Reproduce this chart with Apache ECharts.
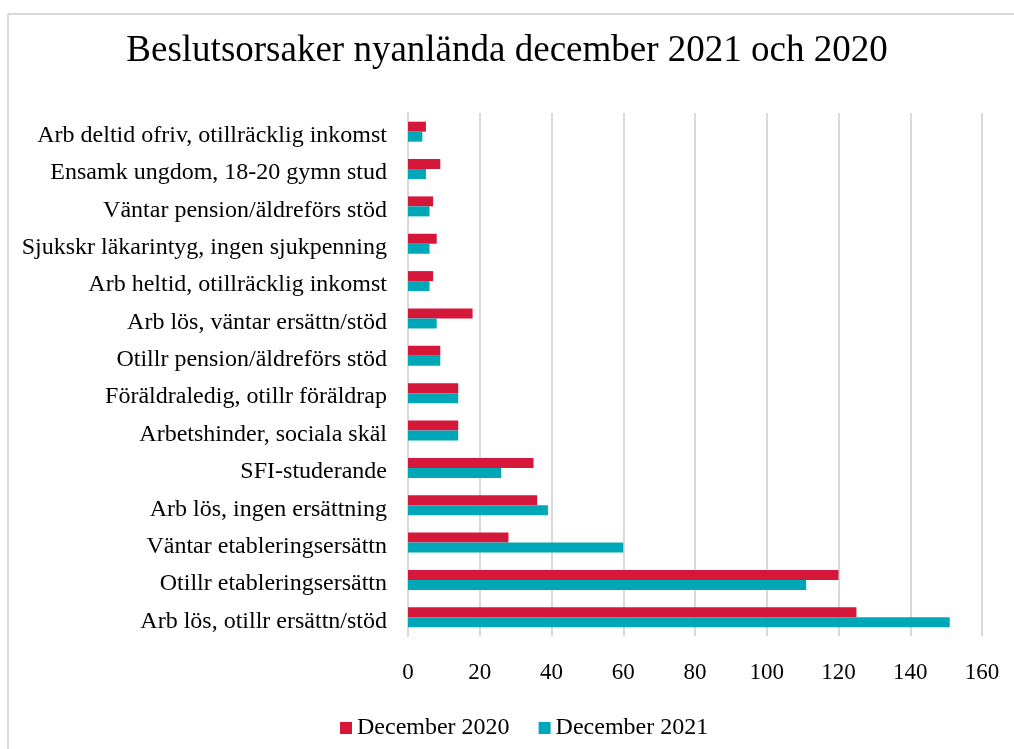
<!DOCTYPE html>
<html>
<head>
<meta charset="utf-8">
<script src="https://cdn.jsdelivr.net/npm/echarts@6/dist/echarts.min.js"></script>
<style>
  html, body { margin: 0; padding: 0; background: #fff; }
  #chart { width: 1014px; height: 749px; }
</style>
</head>
<body>
<div id="chart"></div>
<script>
// categories, top to bottom
var categories = [
    "Arb deltid ofriv, otillräcklig inkomst",
    "Ensamk ungdom, 18-20 gymn stud",
    "Väntar pension/äldreförs stöd",
    "Sjukskr läkarintyg, ingen sjukpenning",
    "Arb heltid, otillräcklig inkomst",
    "Arb lös, väntar ersättn/stöd",
    "Otillr pension/äldreförs stöd",
    "Föräldraledig, otillr föräldrap",
    "Arbetshinder, sociala skäl",
    "SFI-studerande",
    "Arb lös, ingen ersättning",
    "Väntar etableringsersättn",
    "Otillr etableringsersättn",
    "Arb lös, otillr ersättn/stöd"
];

var dec2020 = [5, 9, 7, 8, 7, 18, 9, 14, 14, 35, 36, 28, 120, 125];
var dec2021 = [4, 5, 6, 6, 6, 8, 9, 14, 14, 26, 39, 60, 111, 151];

var xTicks = { min: 0, max: 160, interval: 20 };

var myChart = echarts.init(document.getElementById("chart"));
var serif = "'Liberation Serif', 'Times New Roman', serif";

var option = {
    backgroundColor: "#fff",
    animation: false,
    textStyle: { fontFamily: serif, color: "#000" },
    title: {
        text: "Beslutsorsaker nyanlända december 2021 och 2020",
        left: "center",
        top: 28,
        textStyle: { fontFamily: serif, fontSize: 37, fontWeight: "normal", color: "#000" }
    },
    // light frame on left and top edges
    graphic: [
        { type: "line", shape: { x1: 8, y1: 14, x2: 1014, y2: 14 }, style: { stroke: "#d9d9d9", lineWidth: 2 } },
        { type: "line", shape: { x1: 8, y1: 14, x2: 8, y2: 749 }, style: { stroke: "#d9d9d9", lineWidth: 2 } }
    ],
    legend: {
        bottom: 9,
        left: 340,
        padding: 0,
        itemWidth: 12,
        itemHeight: 12,
        itemGap: 29,
        icon: "rect",
        textStyle: { fontFamily: serif, fontSize: 24, color: "#000" },
        data: ["December 2020", "December 2021"]
    },
    grid: { left: 408, right: 32, top: 113, bottom: 113 },
    xAxis: {
        type: "value",
        min: xTicks.min,
        max: xTicks.max,
        interval: xTicks.interval,
        axisLine: { show: false },
        axisTick: { show: false },
        axisLabel: { fontFamily: serif, fontSize: 23, color: "#000", margin: 25 },
        splitLine: { lineStyle: { color: "#d9d9d9", width: 2 } }
    },
    yAxis: {
        type: "category",
        inverse: true,
        data: categories,
        axisLine: { show: true, lineStyle: { color: "#d9d9d9", width: 2 } },
        axisTick: { show: false },
        axisLabel: {
            fontFamily: serif, fontSize: 24, color: "#000", margin: 21,
            verticalAlign: "top", lineHeight: 8
        }
    },
    series: [
        {
            name: "December 2020",
            type: "bar",
            data: dec2020,
            barWidth: 10,
            barGap: "0%",
            itemStyle: { color: "#d5173a" }
        },
        {
            name: "December 2021",
            type: "bar",
            data: dec2021,
            barWidth: 10,
            barGap: "0%",
            itemStyle: { color: "#00a8b7" }
        }
    ]
};

myChart.setOption(option);
</script>
</body>
</html>
